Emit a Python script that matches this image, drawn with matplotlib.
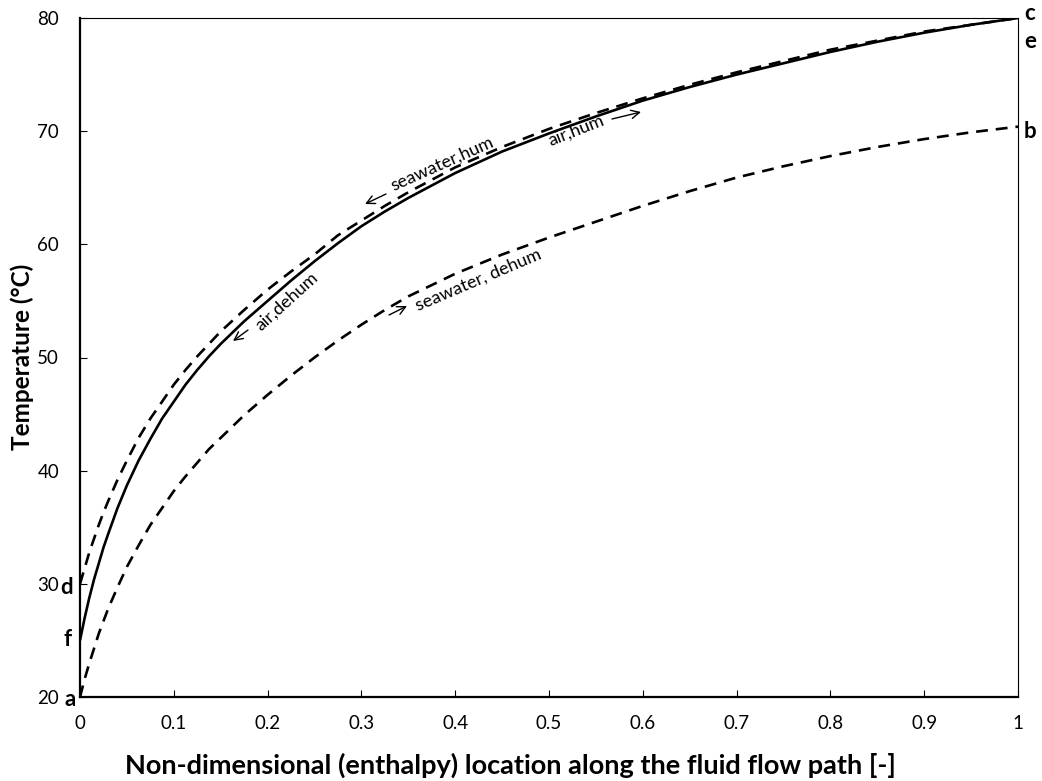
import matplotlib
matplotlib.use("Agg")
import matplotlib.pyplot as plt

# Non-dimensional enthalpy location along the flow path
x = [0, 0.0025, 0.005, 0.0075, 0.01, 0.015, 0.02, 0.025, 0.03, 0.04, 0.05, 0.0625,
     0.075, 0.0875, 0.1, 0.1125, 0.125, 0.1375, 0.15, 0.175, 0.2, 0.225, 0.25, 0.275,
     0.3, 0.325, 0.35, 0.4, 0.45, 0.5, 0.55, 0.6, 0.65, 0.7, 0.75, 0.8, 0.85, 0.9,
     0.95, 1.0]

# Temperature profiles (°C)
t_air = [25.0, 26.0, 27.0, 27.9, 28.8, 30.4, 31.8, 33.2, 34.4, 36.7, 38.7, 40.9,
         42.8, 44.6, 46.1, 47.6, 48.9, 50.1, 51.2, 53.2, 55.0, 56.8, 58.5, 60.1,
         61.6, 62.9, 64.1, 66.3, 68.2, 69.8, 71.3, 72.7, 73.9, 75.0, 76.0, 77.0, 77.9,
         78.7, 79.4, 80.0]
t_sw_hum = [30.0, 30.7, 31.4, 32.1, 32.8, 34.0, 35.2, 36.3, 37.3, 39.2, 40.9, 42.9,
            44.6, 46.1, 47.6, 48.9, 50.1, 51.2, 52.3, 54.2, 56.0, 57.6, 59.1, 60.8,
            62.1, 63.4, 64.6, 66.8, 68.6, 70.2, 71.6, 72.9, 74.1, 75.2, 76.2, 77.2,
            78.0, 78.8, 79.4, 80.0]
t_sw_dehum = [20.0, 20.8, 21.6, 22.3, 23.0, 24.3, 25.6, 26.7, 27.8, 29.7, 31.5, 33.4,
              35.2, 36.7, 38.2, 39.5, 40.7, 41.9, 42.9, 44.9, 46.7, 48.4, 50.0, 51.5,
              52.9, 54.2, 55.4, 57.4, 59.1, 60.6, 62.0, 63.4, 64.7, 65.9, 66.9, 67.8,
              68.6, 69.3, 69.9, 70.4]

x_ticks = [0, 0.1, 0.2, 0.3, 0.4, 0.5, 0.6, 0.7, 0.8, 0.9, 1]
x_tick_labels = ["0", "0.1", "0.2", "0.3", "0.4", "0.5", "0.6", "0.7", "0.8", "0.9", "1"]
y_ticks = [20, 30, 40, 50, 60, 70, 80]

FONT = ["Lato", "DejaVu Sans"]
plt.rcParams["font.family"] = FONT

W, H = 1042, 781
fig = plt.figure(figsize=(W / 100, H / 100), dpi=100)
L, R, T, B = 80, 1018, 18, 697
ax = fig.add_axes([L / W, 1 - B / H, (R - L) / W, (B - T) / H])

lw = 1.9
ax.plot(x, t_air, color="black", lw=lw, solid_capstyle="butt", solid_joinstyle="round")
ax.plot(x, t_sw_hum, color="black", lw=lw, dashes=(4.5, 3.0))
ax.plot(x, t_sw_dehum, color="black", lw=lw, dashes=(4.5, 3.0))

ax.set_xlim(0, 1)
ax.set_ylim(20, 80)
ax.set_xticks(x_ticks)
ax.set_xticklabels(x_tick_labels)
ax.set_yticks(y_ticks)
ax.tick_params(axis="both", direction="in", length=5, width=0.8, labelsize=13.5,
               colors="black")
ax.tick_params(axis="x", pad=13)
ax.tick_params(axis="y", pad=15)

for side in ("left", "bottom"):
    ax.spines[side].set_linewidth(1.6)
for side in ("top", "right"):
    ax.spines[side].set_linewidth(0.8)

# Axis titles
fig.text(510 / W, 1 - 765 / H,
         "Non-dimensional (enthalpy) location along the fluid flow path [-]",
         ha="center", va="center", fontsize=19.5, fontweight="bold")
fig.text(22 / W, 1 - 357 / H, "Temperature (°C)", rotation=90,
         ha="center", va="center", fontsize=17.5, fontweight="bold")


def px2data(px, py):
    return ((px - L) / (R - L), 20 + (B - py) / (B - T) * 60)


# Curve labels along the profiles
labels = [
    ("seawater,hum", (393, 191), 24),
    ("air,hum", (551, 146), 21.5),
    ("air,dehum", (261, 331), 42),
    ("seawater, dehum", (418, 311), 23),
]
for txt, (px, py), ang in labels:
    ax.text(*px2data(px, py), txt, rotation=ang, rotation_mode="anchor",
            ha="left", va="baseline", fontsize=13, color="black")

# Flow-direction arrows
arrows = [
    ((386, 194), (365, 204)),
    ((612, 119), (641, 112)),
    ((248, 330), (233, 341)),
    ((389, 315), (407, 306)),
]
for tail, head in arrows:
    ax.annotate("", xy=px2data(*head), xytext=px2data(*tail),
                arrowprops=dict(arrowstyle="->", lw=1.0, color="black",
                                shrinkA=0, shrinkB=0, mutation_scale=15))

# State point letters
points = [("a", 70, 700), ("b", 1030, 131), ("c", 1030, 14),
          ("d", 67, 588), ("e", 1030, 41), ("f", 68, 640)]
for s, px, py in points:
    fig.text(px / W, 1 - py / H, s, ha="center", va="center",
             fontsize=16, fontweight="bold")

fig.savefig("out.png", dpi=100)
